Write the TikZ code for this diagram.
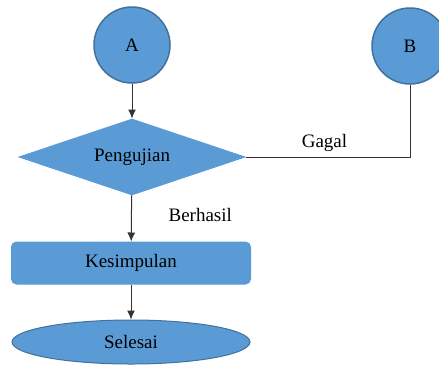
\documentclass[tikz,border=0pt]{standalone}
\usepackage{fontspec}
\setmainfont{Liberation Serif}
\usetikzlibrary{shapes.geometric,arrows.meta}
\definecolor{boxblue}{HTML}{5B9BD5}
\definecolor{boxline}{HTML}{41719C}
\begin{document}
\begin{tikzpicture}
     [
     x=0.5pt, y=-0.5pt,
     font=\fontsize{9.5}{11}\selectfont,
     startball/.style={circle, draw=boxline, fill=boxblue, line width=0.75pt, minimum size=38pt, inner sep=0pt},
     testbox/.style={diamond, aspect=3, draw=boxblue, fill=boxblue, line width=0.5pt, minimum width=113pt, minimum height=38pt, inner sep=0pt},
     resultbox/.style={rectangle, rounded corners=2.5pt, draw=boxblue, fill=boxblue, line width=0.5pt, minimum width=119.5pt, minimum height=21pt},
     endball/.style={ellipse, draw=boxline, fill=boxblue, line width=0.5pt, minimum width=119pt, minimum height=22pt, inner sep=0pt},
     link/.style={draw=black!80, line width=0.5pt},
     arrowlink/.style={link, -{Latex[length=4.5pt,width=4pt]}},
     ]
 \useasboundingbox (0,0) rectangle (439,365);
 \begin{scope}
 \clip (0,0) rectangle (439,365);
 \node at (132,45) [startball]   (A)    {A};
 \node at (410,46) [startball]   (B)    {B};
 \node at (132,157) [testbox]    (uji)  {Pengujian};
 \node at (131,263) [resultbox]  (kes)  {Kesimpulan};
 \node at (131,342) [endball]    (end)  {Selesai};
 \end{scope}
 \draw[arrowlink] (A) -- (uji);
 \draw[arrowlink] (uji) -- node[pos=0.42, right=15pt] (berhasil) {Berhasil} (kes);
 \draw[arrowlink] (kes) -- (end);
 \draw[link] (B) |- node[pos=0.76, above=-1pt] (gagal) {Gagal} (uji.east);
 \end{tikzpicture}
\end{document}
